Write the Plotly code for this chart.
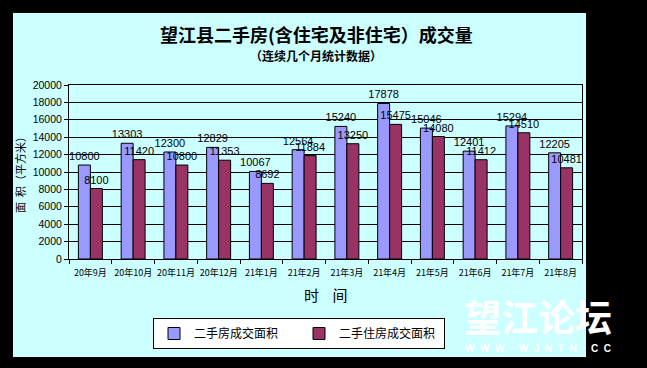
import plotly.graph_objects as go

months = ["20年9月", "20年10月", "20年11月", "20年12月", "21年1月", "21年2月",
          "21年3月", "21年4月", "21年5月", "21年6月", "21年7月", "21年8月"]
total_area = [10800, 13303, 12300, 12829, 10067, 12564, 15240, 17878, 15046, 12401, 15294, 12205]
resid_area = [8100, 11420, 10800, 11353, 8692, 11884, 13250, 15475, 14080, 11412, 14510, 10481]
y_ticks = list(range(0, 20001, 2000))

L, R, T, B = 69, 582, 85, 259
W, H = 647, 368


def px(x):
    return (x - L) / (R - L)


def py(y):
    return (B - y) / (B - T)


label_font = dict(family="Liberation Sans, Arial", size=11, color="black")

fig = go.Figure()
fig.add_trace(go.Bar(
    x=months, y=total_area, name="二手房成交面积",
    marker=dict(color="#9999FF", line=dict(color="black", width=1)),
    text=[str(v) for v in total_area], textposition="outside",
    textfont=label_font, cliponaxis=False, constraintext="none",
))
fig.add_trace(go.Bar(
    x=months, y=resid_area, name="二手住房成交面积",
    marker=dict(color="#993366", line=dict(color="black", width=1)),
    text=[str(v) for v in resid_area], textposition="outside",
    textfont=label_font, cliponaxis=False, constraintext="none",
))

cjk = "Noto Sans CJK SC"


def ann(text, x, y, size, family=cjk, color="black", angle=0):
    return dict(text=text, xref="paper", yref="paper", x=px(x), y=py(y),
                xanchor="center", yanchor="middle", showarrow=False,
                textangle=angle, font=dict(family=family, size=size, color=color))


fig.update_layout(
    width=W, height=H,
    margin=dict(l=L, r=W - R, t=T, b=H - B, autoexpand=False),
    paper_bgcolor="black",
    plot_bgcolor="#FFFFCC",
    barmode="group",
    bargap=0.44,
    bargroupgap=0,
    showlegend=True,
    legend=dict(
        orientation="h", x=px(153), y=py(318), xanchor="left", yanchor="top",
        bgcolor="white", bordercolor="black", borderwidth=1,
        font=dict(family=cjk, size=12, color="black"),
        entrywidth=100, entrywidthmode="pixels",
        itemwidth=30,
    ),
    xaxis=dict(
        showline=True, linecolor="black", linewidth=1, mirror=True,
        ticks="outside", tickson="boundaries", ticklen=4, tickcolor="black",
        tickfont=dict(family=cjk, size=9, color="black"),
        tickangle=0, ticklabelstandoff=5,
        showgrid=False,
    ),
    yaxis=dict(
        range=[0, 20000], tickvals=y_ticks, tickformat="d",
        showline=True, linecolor="black", linewidth=1, mirror=True,
        ticks="outside", ticklen=4, tickcolor="black",
        tickfont=dict(family="Liberation Sans, Arial", size=10.5, color="black"),
        showgrid=True, gridcolor="black", gridwidth=1,
        zeroline=False,
    ),
    shapes=[
        dict(type="rect", xref="paper", yref="paper",
             x0=px(13), x1=px(586), y0=py(357), y1=py(13),
             fillcolor="#CCFFFF", line=dict(width=0), layer="below"),
    ],
    annotations=[
        ann("<b>望江县二手房(含住宅及非住宅）成交量</b>", 316, 34, 18),
        ann("<b>（连续几个月统计数据）</b>", 316, 55, 12),
        ann("面  积（平方米）", 20, 172, 11, angle=-90),
        ann("时    间", 325, 294, 15),
        ann("<b>望江论坛</b>", 538, 316, 37, color="white"),
        ann("<b>W  W  W  ·  W  J  N  T  N  ·  C  C</b>", 538, 348, 10,
            family="Liberation Sans, Arial", color="white"),
    ],
)

fig.write_html(
    "out.html",
    config={"displayModeBar": False},
    post_script="document.body.style.margin='0';document.body.style.background='black';",
)
